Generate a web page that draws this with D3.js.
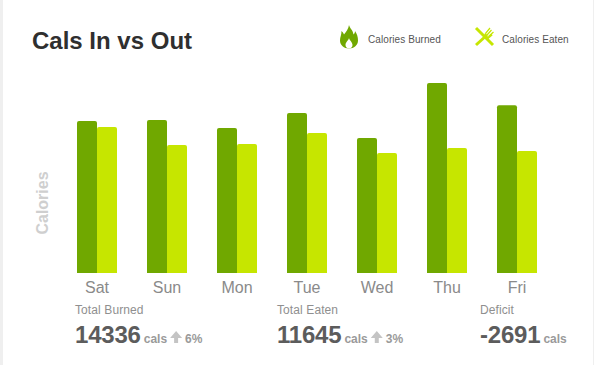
<!DOCTYPE html>
<html>
<head>
<meta charset="utf-8">
<script src="https://cdn.jsdelivr.net/npm/d3@7"></script>
<style>
  html, body { margin: 0; padding: 0; background: #fff; }
  text { font-family: "Liberation Sans", Arial, sans-serif; }
</style>
</head>
<body>
<div id="chart"></div>
<script>
const days = ["Sat", "Sun", "Mon", "Tue", "Wed", "Thu", "Fri"];
const seriesNames = ["Calories Burned", "Calories Eaten"];
const burned = [1976, 1989, 1885, 2080, 1755, 2470, 2181];
const eaten = [1898, 1664, 1677, 1820, 1560, 1625, 1586];

const summaryLabels = ["Total Burned", "Total Eaten", "Deficit"];
const summaryValues = ["14336", "11645", "-2691"];
const summaryChange = ["6%", "3%", null];

const width = 594, height = 365;
const colorRange = ["#70a800", "#c6e600"];

const svg = d3.select("#chart")
  .append("svg")
  .attr("width", width)
  .attr("height", height)
  .style("display", "block");

// card edges
svg.append("rect").attr("x", 0).attr("y", 0).attr("width", 3).attr("height", height).attr("fill", "#efefef");
svg.append("rect").attr("x", 593).attr("y", 0).attr("width", 1).attr("height", height).attr("fill", "#efefef");

svg.append("text")
  .attr("x", 32).attr("y", 49)
  .text("Cals In vs Out")
  .style("font-size", "24px")
  .style("font-weight", "700")
  .attr("fill", "#2f2f2f");

// SCALES ==========
const x = d3.scaleBand().domain(days).range([62, 552]).paddingInner(30 / 70).paddingOuter(15 / 70);
const xSeries = d3.scaleBand().domain(seriesNames).range([0, x.bandwidth()]);
const y = d3.scaleLinear().domain([0, 2470]).range([273, 83]);

// bars with slightly rounded tops
const barPath = (x0, w, v) => {
  const top = y(v), r = 2;
  return `M${x0},${y(0)}V${top + r}Q${x0},${top} ${x0 + r},${top}H${x0 + w - r}Q${x0 + w},${top} ${x0 + w},${top + r}V${y(0)}Z`;
};

const groups = svg.selectAll("g.day")
  .data(days)
  .join("g")
  .attr("class", "day")
  .attr("transform", d => `translate(${x(d)},0)`);

groups.append("path")
  .attr("d", (_, i) => barPath(xSeries(seriesNames[0]), xSeries.bandwidth(), burned[i]))
  .attr("fill", colorRange[0]);

groups.append("path")
  .attr("d", (_, i) => barPath(xSeries(seriesNames[1]), xSeries.bandwidth(), eaten[i]))
  .attr("fill", colorRange[1]);

// AXES ==========
const xAxis = svg.append("g")
  .attr("transform", "translate(0,273)")
  .call(d3.axisBottom(x).tickSize(0).tickPadding(6));
xAxis.select(".domain").remove();
xAxis.selectAll("text")
  .attr("y", 20)
  .attr("dy", 0)
  .style("font-size", "16px")
  .style("font-family", "'Liberation Sans', Arial, sans-serif")
  .attr("fill", "#8a8a8a");

svg.append("text")
  .attr("transform", "translate(48,203) rotate(-90)")
  .attr("text-anchor", "middle")
  .text("Calories")
  .style("font-size", "16px")
  .style("font-weight", "700")
  .attr("fill", "#cfcfcf");

// LEGEND ==========
const legendX = [368, 502];
svg.selectAll("text.legend-text")
  .data(seriesNames)
  .join("text")
  .attr("class", "legend-text")
  .attr("x", (_, i) => legendX[i])
  .attr("y", 43)
  .text(d => d)
  .style("font-size", "10px")
  .style("letter-spacing", "0.08px")
  .attr("fill", "#555");

// flame icon
const flame = svg.append("g").attr("transform", "translate(340,25)");
flame.append("path")
  .attr("d", "M9,0C9.500,3 13,5 13.500,9.500C14.500,8.500 15,7.500 15,6C17,9 18,12 18,15.500C18,20 14,23.500 9,23.500C4,23.500 0,20 0,15.500C0,12 1.500,10 1.500,6C2.500,7 3.500,8 4,9.500C6,7 8.500,4 9,0Z")
  .attr("fill", colorRange[0]);
flame.append("path")
  .attr("d", "M9,13C9.500,15.500 12.500,17 12.500,20C12.500,22 11,23.500 9,23.500C7,23.500 5.500,22 5.500,20C5.500,17 8.500,15.500 9,13Z")
  .attr("fill", "#fff");

// knife and fork icon
const cutlery = svg.append("g")
  .attr("transform", "translate(475,27)")
  .attr("stroke", colorRange[1])
  .attr("fill", "none");
cutlery.append("path").attr("d", "M1,1L18,18").attr("stroke-width", 3);
cutlery.append("path").attr("d", "M1,18L12,8").attr("stroke-width", 3);
cutlery.append("path").attr("d", "M10,6.500L12.500,11.500L17,7.500").attr("stroke-width", 2);
cutlery.append("path").attr("d", "M10.500,6.500L15,1M12,8L16.500,3M13.500,9.500L18.500,5").attr("stroke-width", 1.2);

// SUMMARY ==========
const summaryX = [75, 277, 480];
const summary = svg.selectAll("g.summary")
  .data(summaryLabels)
  .join("g")
  .attr("class", "summary")
  .attr("transform", (_, i) => `translate(${summaryX[i]},0)`);

summary.append("text")
  .attr("y", 314)
  .text(d => d)
  .style("font-size", "12px")
  .style("letter-spacing", "0.1px")
  .attr("fill", "#8f8f8f");

summary.each(function(_, i) {
  const g = d3.select(this);
  const big = g.append("text")
    .attr("y", 343)
    .text(summaryValues[i])
    .style("font-size", "24px")
    .style("font-weight", "700")
    .style("letter-spacing", "-0.2px")
    .attr("fill", "#5c5c5c");
  let pos = big.node().getComputedTextLength() + 3;

  const unit = g.append("text")
    .attr("x", pos).attr("y", 343)
    .text("cals")
    .style("font-size", "12px")
    .style("font-weight", "700")
    .attr("fill", "#9a9a9a");
  pos += unit.node().getComputedTextLength() + 3;

  if (summaryChange[i]) {
    g.append("path")
      .attr("d", `M${pos + 6},331L${pos + 12},338H${pos + 8}V343H${pos + 4}V338H${pos}Z`)
      .attr("fill", "#c4c4c4");
    g.append("text")
      .attr("x", pos + 15).attr("y", 343)
      .text(summaryChange[i])
      .style("font-size", "12px")
      .style("font-weight", "700")
      .attr("fill", "#9a9a9a");
  }
});
</script>
</body>
</html>
